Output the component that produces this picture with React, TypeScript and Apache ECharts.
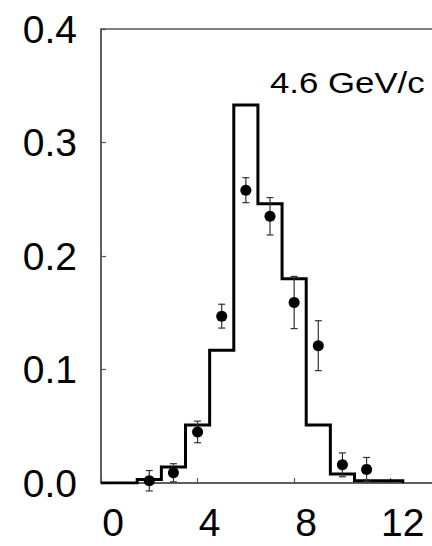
import React, { useEffect, useRef } from "react";
import * as echarts from "echarts";

// Histogram (model) bins centred at integers
const binCenters = [1, 2, 3, 4, 5, 6, 7, 8, 9, 10, 11, 12];
const histValues = [0, 0.003, 0.014, 0.051, 0.117, 0.333, 0.246, 0.18, 0.051, 0.008, 0.002, 0.002];

// Measured points with errors
const pointX = [2, 3, 4, 5, 6, 7, 8, 9, 10, 11];
const pointY = [0.002, 0.009, 0.045, 0.147, 0.258, 0.235, 0.159, 0.121, 0.016, 0.012];
const pointErr = [0.009, 0.008, 0.0095, 0.0105, 0.011, 0.0165, 0.023, 0.022, 0.0105, 0.0105];

const xTicks = [0, 4, 8, 12];
const labelText = "4.6 GeV/c";

const FONT = "'Liberation Sans', Arial, Helvetica, sans-serif";

export default function App() {
  const ref = useRef<HTMLDivElement>(null);
  useEffect(() => {
    document.body.style.margin = "0";
    if (!ref.current) return;
    const chart = echarts.init(ref.current, undefined, { renderer: "svg" });

    const stepPts: number[][] = [[0, 0]];
    binCenters.forEach((c, i) => {
      stepPts.push([c - 0.5, histValues[i]]);
      stepPts.push([c + 0.5, histValues[i]]);
    });
    stepPts.push([binCenters[binCenters.length - 1] + 0.5, 0]);

    const errData = pointX.map((x, i) => [x, pointY[i] - pointErr[i], pointY[i] + pointErr[i]]);

    chart.setOption({
      animation: false,
      backgroundColor: "#fff",
      grid: {
        left: 101,
        width: 338,
        top: 29,
        height: 454,
        outerBoundsMode: "none",
        containLabel: false,
        show: true,
        borderColor: "#555",
        borderWidth: 1.5,
        backgroundColor: "transparent",
      },
      xAxis: {
        type: "value",
        min: 0,
        max: 14,
        interval: 4,
        axisLine: { show: true, onZero: false, lineStyle: { color: "#555", width: 1.5 } },
        axisTick: { show: true, inside: true, length: 5, lineStyle: { color: "#555", width: 1.2 } },
        splitLine: { show: false },
        axisLabel: {
          color: "#000",
          fontSize: 39,
          fontFamily: FONT,
          margin: 20,
          padding: [0, 0, 0, 24],
          customValues: xTicks,
          formatter: (v: number) => String(v),
        },
      },
      yAxis: {
        type: "value",
        min: 0,
        max: 0.4,
        interval: 0.1,
        axisLine: { show: true, lineStyle: { color: "#555", width: 1.5 } },
        axisTick: { show: true, inside: true, length: 5, lineStyle: { color: "#555", width: 1.2 } },
        splitLine: { show: false },
        axisLabel: {
          color: "#000",
          fontSize: 39,
          fontFamily: FONT,
          margin: 24,
          formatter: (v: number) => v.toFixed(1),
        },
      },
      series: [
        {
          type: "line",
          data: stepPts,
          symbol: "none",
          lineStyle: { color: "#000", width: 3, join: "miter" },
          z: 2,
        },
        {
          type: "custom",
          data: errData,
          renderItem: (params: any, api: any) => {
            const x = api.value(0);
            const lo = api.coord([x, api.value(1)]);
            const hi = api.coord([x, api.value(2)]);
            const cw = 3.5;
            const style = { stroke: "#333", lineWidth: 1.2 };
            return {
              type: "group",
              children: [
                { type: "line", shape: { x1: lo[0], y1: lo[1], x2: hi[0], y2: hi[1] }, style },
                { type: "line", shape: { x1: lo[0] - cw, y1: lo[1], x2: lo[0] + cw, y2: lo[1] }, style },
                { type: "line", shape: { x1: hi[0] - cw, y1: hi[1], x2: hi[0] + cw, y2: hi[1] }, style },
              ],
            };
          },
          z: 3,
        },
        {
          type: "scatter",
          data: pointX.map((x, i) => [x, pointY[i]]),
          symbol: "circle",
          symbolSize: 11,
          itemStyle: { color: "#000", opacity: 1 },
          z: 4,
        },
      ],
      graphic: [
        {
          type: "text",
          x: 270,
          y: 69,
          scaleX: 1.2,
          style: {
            text: labelText,
            font: `29px ${FONT}`,
            fill: "#000",
          },
        },
      ],
    });
    return () => chart.dispose();
  }, []);
  return <div ref={ref} style={{ width: 432, height: 546 }} />;
}
